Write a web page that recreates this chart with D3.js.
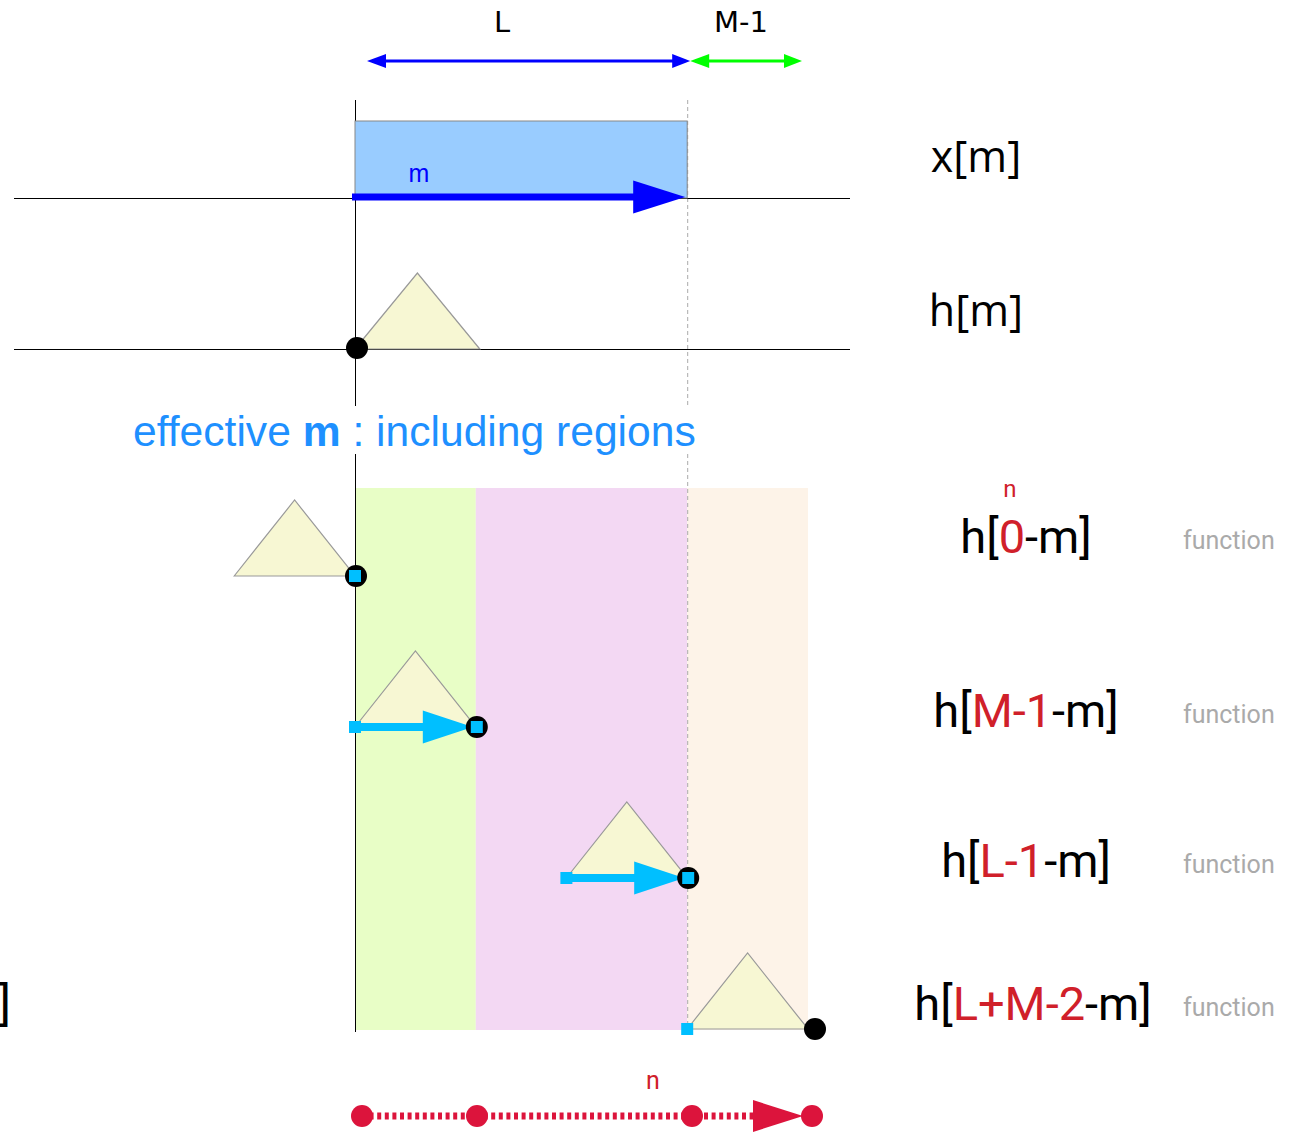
<!DOCTYPE html>
<html><head><meta charset="utf-8">
<script src="https://cdn.jsdelivr.net/npm/d3@7"></script>
<style>html,body{margin:0;padding:0;background:#fff}svg{display:block}</style>
</head><body>
<script>
// ---- data ----
const L = 11, M = 5;                       // abstract sample units (M-1 = 4)
const topSpanLabels = ["L", "M-1"];
const topSpanFrom = [0, L];
const topSpanTo = [L, L + M - 1];
const regionFrom = [0, M - 1, L];
const regionTo = [M - 1, L, L + M - 1];
const rowPrefix = ["h[", "h[", "h[", "h["];
const rowRed = ["0", "M-1", "L-1", "L+M-2"];
const rowSuffix = ["-m]", "-m]", "-m]", "-m]"];
const rowEnd = [0, M - 1, L, L + M - 1];   // where each flipped/shifted h ends
const axisDots = [0, M - 1, L, L + M - 1];
const sideLabels = ["x[m]", "h[m]"];

// ---- layout / style ----
const W = 1291, H = 1132;
const svg = d3.select("body").append("svg").attr("width", W).attr("height", H);
const x = d3.scaleLinear().domain([0, L + M - 1]).range([355, 808]);
const nx = d3.scaleLinear().domain([0, L + M - 1]).range([362, 812]);
const rowY = d3.scalePoint().domain(d3.range(rowEnd.length)).range([576, 1029]);
const labelDy = [-23, 0, -1, -9];
const C = {blue:"#0000ff", green:"#00ff00", cyan:"#00bfff", red:"#dc143c", txtRed:"#d0202a",
  tri:"#f7f7d3", triStroke:"#999", regions:["#e8fec6","#f3d8f3","#fdf3e8"]};

function head(g, tipX, y, len, half, color, dir) {
  const d = dir || 1;
  g.append("path")
    .attr("d", d3.line()([[tipX, y], [tipX - d * len, y - half], [tipX - d * len, y + half]]) + "Z")
    .attr("fill", color);
}

// regions
const gReg = svg.append("g");
regionFrom.forEach((f, i) => {
  gReg.append("rect").attr("x", x(f)).attr("y", 488).attr("width", x(regionTo[i]) - x(f))
    .attr("height", 542).attr("fill", C.regions[i]);
});

// vertical reference lines with a break around the caption
const vl = svg.append("g");
[[100, 406], [454, 1032]].forEach(([a, b]) => {
  vl.append("line").attr("x1", x(0) + 0.5).attr("x2", x(0) + 0.5).attr("y1", a).attr("y2", b)
    .attr("stroke", "#000").attr("stroke-width", 1);
  vl.append("line").attr("x1", x(L) + 0.5).attr("x2", x(L) + 0.5).attr("y1", a).attr("y2", b)
    .attr("stroke", "#aaa").attr("stroke-width", 1).attr("stroke-dasharray", "4,3");
});

// top span arrows
const gTop = svg.append("g");
const spanColors = [C.blue, C.green];
const spanInset = [[12, 3], [3, -6]];
const spanLabelX = [502, 741];
topSpanLabels.forEach((lab, i) => {
  const a = x(topSpanFrom[i]) + spanInset[i][0], b = x(topSpanTo[i]) + spanInset[i][1];
  gTop.append("line").attr("x1", a + 5).attr("x2", b - 5).attr("y1", 61).attr("y2", 61)
    .attr("stroke", spanColors[i]).attr("stroke-width", 3);
  head(gTop, a, 61, 19, 7, spanColors[i], -1);
  head(gTop, b, 61, 18, 7, spanColors[i], 1);
  gTop.append("text").attr("x", spanLabelX[i]).attr("y", 32).attr("text-anchor", "middle")
    .attr("font-family", "DejaVu Sans, sans-serif").attr("font-size", 29).attr("fill", "#000").text(lab);
});

// x[m] row
svg.append("line").attr("x1", 14).attr("x2", 850).attr("y1", 198.5).attr("y2", 198.5).attr("stroke", "#000").attr("stroke-width", 1);
svg.append("rect").attr("x", x(0)).attr("y", 121).attr("width", x(L) - x(0)).attr("height", 77)
  .attr("fill", "#99ccff").attr("stroke", "#888").attr("stroke-width", 1);
svg.append("line").attr("x1", x(0) - 3).attr("x2", x(L) - 50).attr("y1", 197).attr("y2", 197)
  .attr("stroke", C.blue).attr("stroke-width", 7);
head(svg, x(L) - 2, 197, 52, 16.5, C.blue, 1);
svg.append("text").attr("x", 419).attr("y", 182).attr("text-anchor", "middle")
  .attr("font-family", "Liberation Sans, Arial, sans-serif").attr("font-size", 25).attr("fill", C.blue).text("m");

// h[m] row
svg.append("line").attr("x1", 14).attr("x2", 850).attr("y1", 349.5).attr("y2", 349.5).attr("stroke", "#000").attr("stroke-width", 1);
function tri(g, a, b, y) {
  g.append("path").attr("d", d3.line()([[a, y], [(a + b) / 2, y - 76], [b, y]]) + "Z")
    .attr("fill", C.tri).attr("stroke", C.triStroke).attr("stroke-width", 1.2);
}
tri(svg, x(0), x(M - 1) + 4, 349);
svg.append("circle").attr("cx", x(0) + 2).attr("cy", 348).attr("r", 11).attr("fill", "#000");

// side labels x[m], h[m]
[172, 326].forEach((yy, i) => {
  svg.append("text").attr("x", 976).attr("y", yy).attr("text-anchor", "middle")
    .attr("font-family", "Open Sans, sans-serif").attr("font-size", 43).attr("fill", "#000").text(sideLabels[i]);
});

// caption
const cap = svg.append("text").attr("x", 133).attr("y", 446)
  .attr("font-family", "Liberation Sans, Arial, sans-serif").attr("font-size", 42.6).attr("fill", "#1e90ff");
cap.append("tspan").text("effective ");
cap.append("tspan").attr("font-weight", "bold").text("m");
cap.append("tspan").text(" : including regions");

// shifted rows
const gRows = svg.append("g");
rowEnd.forEach((e, i) => {
  const y = rowY(i);
  const s = e - (M - 1);
  tri(gRows, x(s), x(e), y);
  const ov0 = Math.max(s, 0), ov1 = Math.min(e, L);
  if (ov1 > ov0) {
    gRows.append("line").attr("x1", x(ov0)).attr("x2", x(ov1) - 50).attr("y1", y).attr("y2", y)
      .attr("stroke", C.cyan).attr("stroke-width", 8);
    head(gRows, x(ov1) - 3, y, 50, 16.5, C.cyan, 1);
  }
  const dotX = i === rowEnd.length - 1 ? x(e) + 7 : x(e) + 1;
  gRows.append("circle").attr("cx", dotX).attr("cy", y).attr("r", 11).attr("fill", "#000");
  if (ov1 >= ov0) {
    gRows.append("rect").attr("x", x(ov0) - 6).attr("y", y - 6).attr("width", 12).attr("height", 12).attr("fill", C.cyan);
    if (ov1 === e && ov1 !== ov0)
      gRows.append("rect").attr("x", x(ov1) - 5).attr("y", y - 6).attr("width", 12).attr("height", 12).attr("fill", C.cyan);
  }
  // label
  const t = gRows.append("text").attr("x", i === 3 ? 1033 : 1026).attr("y", y + labelDy[i])
    .attr("text-anchor", "middle").attr("font-family", "Roboto, sans-serif").attr("font-size", 47).attr("fill", "#000");
  t.append("tspan").text(rowPrefix[i]);
  t.append("tspan").attr("fill", C.txtRed).text(rowRed[i]);
  t.append("tspan").text(rowSuffix[i]);
  gRows.append("text").attr("x", 1183).attr("y", y + labelDy[i] - 4)
    .attr("font-family", "Roboto, sans-serif").attr("font-size", 25).attr("fill", "#aaa").text("function");
});
// the "n" over the first row's red index
svg.append("text").attr("x", 1010).attr("y", 497).attr("text-anchor", "middle")
  .attr("font-family", "Roboto, sans-serif").attr("font-size", 24).attr("fill", C.txtRed).text("n");
// bracket at the left edge (part of a label mostly off the page)
svg.append("text").attr("x", 11).attr("y", 1020).attr("text-anchor", "end")
  .attr("font-family", "Roboto, sans-serif").attr("font-size", 47).attr("fill", "#000").text("]");

// bottom n axis
const gAx = svg.append("g");
gAx.append("line").attr("x1", nx(0)).attr("x2", nx(L + M - 1) - 58).attr("y1", 1116).attr("y2", 1116)
  .attr("stroke", C.red).attr("stroke-width", 7).attr("stroke-dasharray", "4,3.6");
head(gAx, nx(L + M - 1) - 9, 1116, 50, 16, C.red, 1);
gAx.selectAll("circle").data(axisDots).join("circle")
  .attr("cx", d => nx(d) - (d === M - 1 ? 5 : 0)).attr("cy", 1116).attr("r", 11).attr("fill", C.red);
gAx.append("text").attr("x", 653).attr("y", 1089).attr("text-anchor", "middle")
  .attr("font-family", "Roboto, sans-serif").attr("font-size", 25).attr("fill", C.txtRed).text("n");
</script>
</body></html>
